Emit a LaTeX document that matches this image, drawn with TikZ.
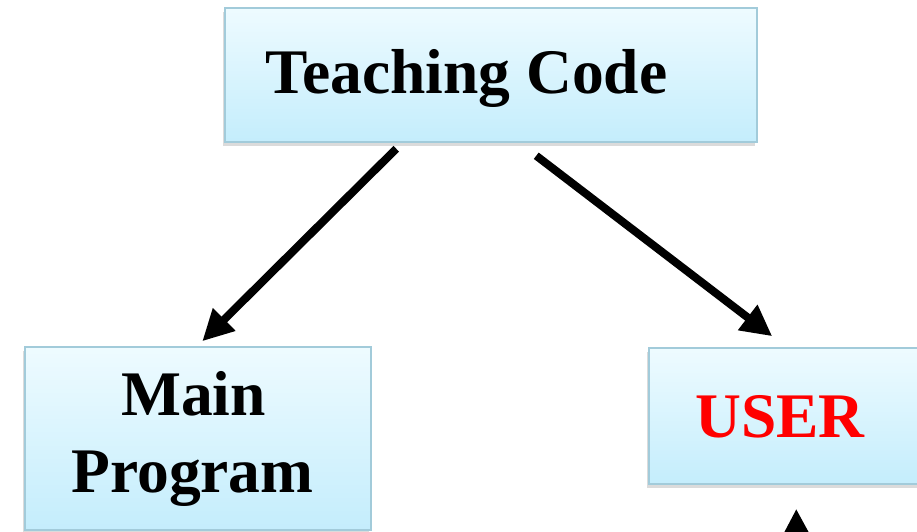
\documentclass[tikz,border=0pt]{standalone}
\usepackage{fontspec}
\setmainfont{Liberation Serif}
\usetikzlibrary{arrows.meta,shadows,calc}
\definecolor{boxtop}{HTML}{EEFBFF}
\definecolor{boxbot}{HTML}{C4EDFC}
\definecolor{boxline}{HTML}{A2CBDA}
\definecolor{userred}{HTML}{FF0000}
\begin{document}
\begin{tikzpicture}[x=1pt,y=-1pt,
 box/.style={draw=boxline, line width=1.5pt, top color=boxtop, bottom color=boxbot,
   drop shadow={shadow xshift=-2pt,shadow yshift=-4pt,opacity=0.35,fill=gray!80}, inner sep=0pt},
 lbl/.style={font=\fontsize{63.5}{73}\selectfont\bfseries, anchor=base, inner sep=0pt},
 arr/.style={line width=8pt, -{Triangle[width=30pt,length=31pt]}}]
\useasboundingbox (0,0) rectangle (917,531);
\clip (0,0) rectangle (917,531);
\node[box, minimum width=532pt, minimum height=134pt] (teach) at (491,75) {};
\node[box, minimum width=346pt, minimum height=183pt] (main) at (198,438.5) {};
\node[box, minimum width=296pt, minimum height=136pt] (user) at (797,416) {};
\node[lbl] (tteach) at (466.5,93) {Teaching Code};
\node[lbl] (tmain) at (193.5,415) {Main};
\node[lbl] (tprog) at (192.5,492) {Program};
\node[lbl, text=userred] (tuser) at (780,437) {USER};
\coordinate (src) at (797,600);
\draw[arr] ($(teach.south west)+(172,6)$) -- ($(main.north west)+(178,-5)$);
\draw[arr] ($(teach.south west)+(312,13)$) -- ($(user.north west)+(124,-11)$);
\draw[arr] (src) -- ($(user.south west)+(148,24)$);
\end{tikzpicture}
\end{document}
